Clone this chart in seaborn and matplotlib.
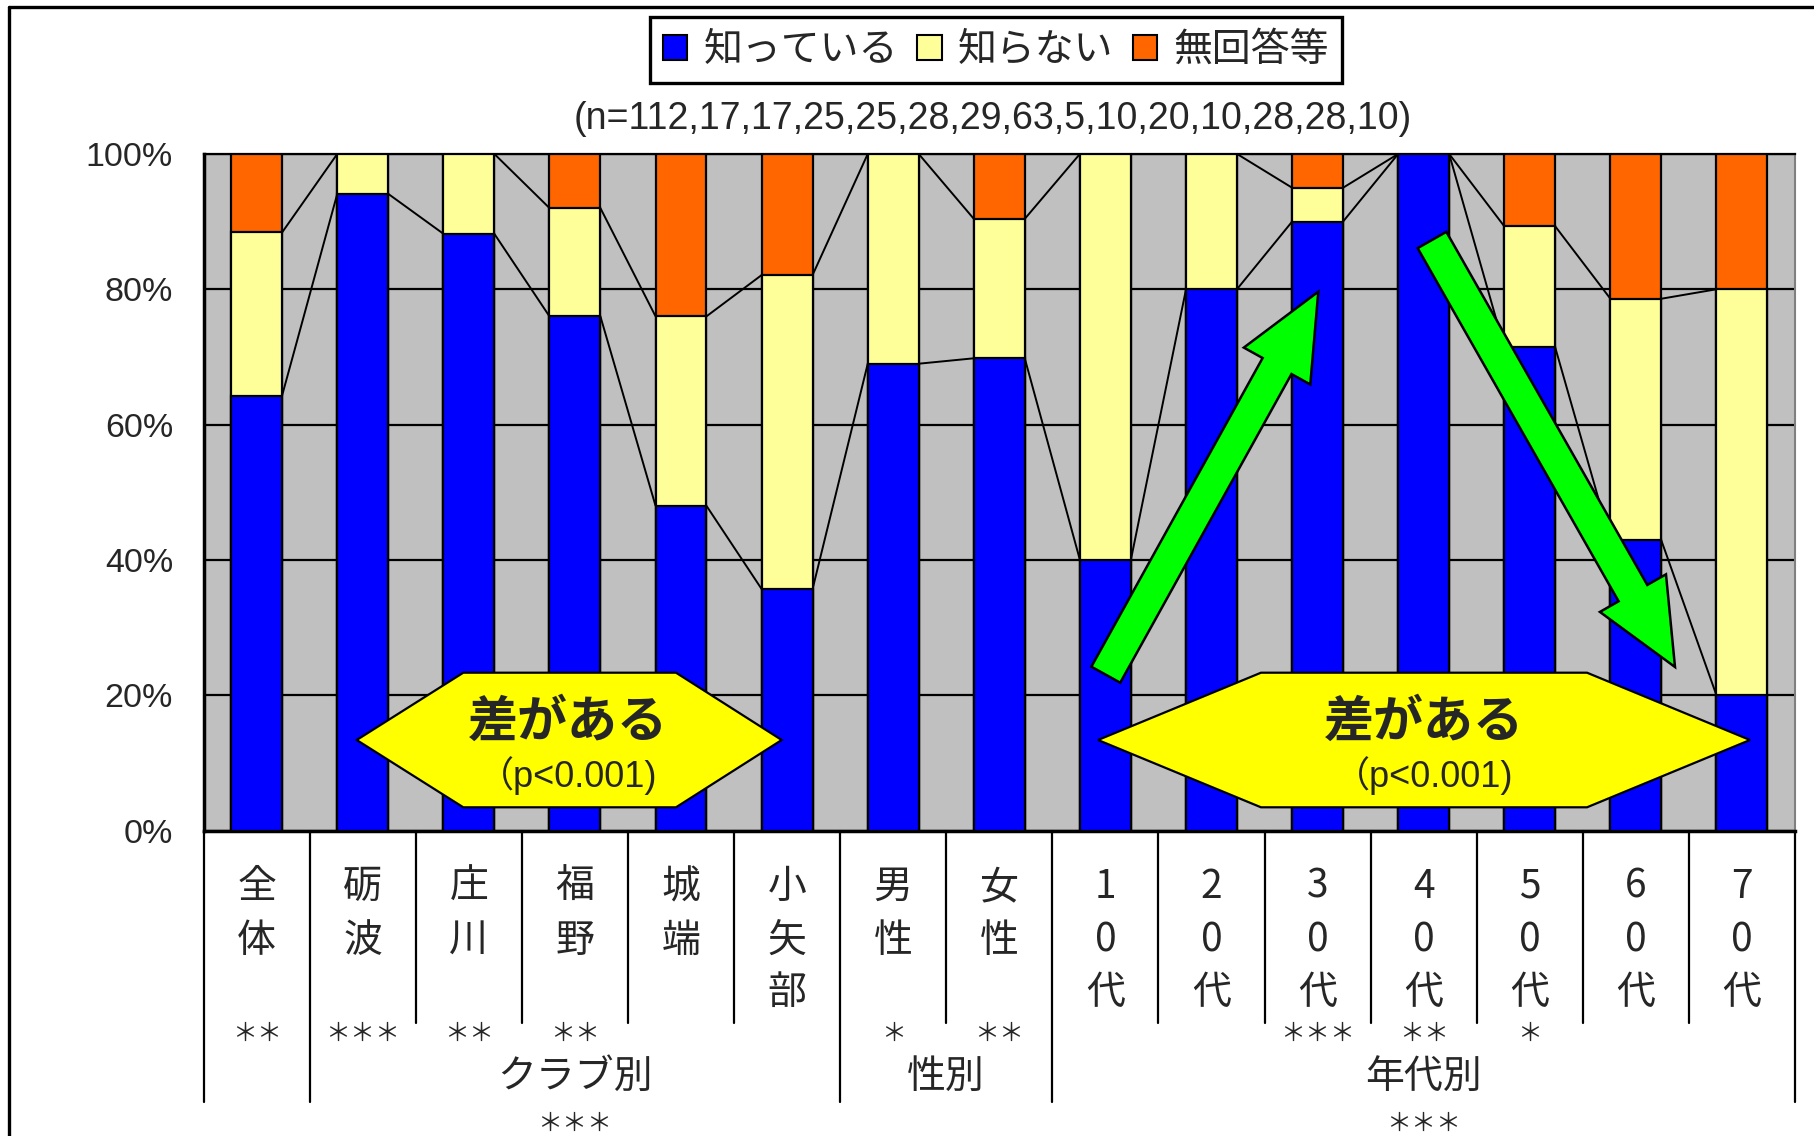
import numpy as np
import pandas as pd
import matplotlib
matplotlib.use("Agg")
import matplotlib.pyplot as plt
import seaborn as sns
from matplotlib.patches import Polygon, Patch
from matplotlib.lines import Line2D
from matplotlib import transforms, font_manager
from matplotlib.font_manager import FontProperties

# ---------------- data ----------------
categories = ["全体", "砺波", "庄川", "福野", "城端", "小矢部", "男性", "女性",
              "10代", "20代", "30代", "40代", "50代", "60代", "70代"]
know = [64.3, 94.1, 88.2, 76.0, 48.0, 35.7, 69.0, 69.8, 40.0, 80.0, 90.0, 100.0, 71.4, 42.9, 20.0]
not_know = [24.1, 5.9, 11.8, 16.0, 28.0, 46.4, 31.0, 20.6, 60.0, 20.0, 5.0, 0.0, 17.9, 35.7, 60.0]
no_answer = [11.6, 0.0, 0.0, 8.0, 24.0, 17.9, 0.0, 9.6, 0.0, 0.0, 5.0, 0.0, 10.7, 21.4, 20.0]
series_names = ["知っている", "知らない", "無回答等"]
significance = ["＊＊", "＊＊＊", "＊＊", "＊＊", "", "", "＊", "＊＊",
                "", "", "＊＊＊", "＊＊", "＊", "", ""]
groups = ["クラブ別", "性別", "年代別"]
group_first = [1, 6, 8]
group_last = [5, 7, 14]
group_significance = ["＊＊＊", "", "＊＊＊"]
yticks = [0, 20, 40, 60, 80, 100]
ytick_labels = ["0%", "20%", "40%", "60%", "80%", "100%"]
sample_text = "(n=112,17,17,25,25,28,29,63,5,10,20,10,28,28,10)"
badge_title = "差がある"
badge_sub = "（p<0.001)"

# ---------------- style ----------------
BLUE, YELLOW, ORANGE = "#0000FF", "#FFFF99", "#FF6600"
GREY = "#C0C0C0"
sns.set_style("white")
plt.rcParams["font.family"] = ["Noto Sans CJK JP", "DejaVu Sans"]

W, H = 1814, 1136
fig = plt.figure(figsize=(W / 100, H / 100), dpi=100)
fig.patch.set_facecolor("white")

L, R, T, B = 203.6, 1795.0, 153.9, 830.7
ax = fig.add_axes([L / W, 1 - B / H, (R - L) / W, (B - T) / H])
ax.set_facecolor(GREY)

df = pd.DataFrame({"category": categories, "know": know,
                   "not_know": not_know, "no_answer": no_answer})
df["c1"] = df["know"]
df["c2"] = df["know"] + df["not_know"]
df["c3"] = df["c2"] + df["no_answer"]

BW = 0.48
for col, colr in [("c3", ORANGE), ("c2", YELLOW), ("c1", BLUE)]:
    sns.barplot(data=df, x="category", y=col, order=categories, color=colr,
                saturation=1, width=BW, edgecolor="black", linewidth=1.6,
                errorbar=None, ax=ax, zorder=3)

# series lines between bars
xs = np.arange(len(categories))
for col in ["c1", "c2", "c3"]:
    v = df[col].values
    for i in range(len(v) - 1):
        ax.plot([xs[i] + BW / 2, xs[i + 1] - BW / 2], [v[i], v[i + 1]],
                color="black", lw=1.4, zorder=2, solid_capstyle="butt")

ax.set_xlim(-0.5, len(categories) - 0.5)
ax.set_ylim(0, 100)
ax.set_xlabel("")
ax.set_ylabel("")
ax.set_axisbelow(True)
ax.yaxis.grid(True, color="black", lw=1.6)
ax.xaxis.grid(False)
ax.set_xticks(np.arange(-0.5, len(categories), 1.0))
ax.set_xticklabels([])
ax.tick_params(axis="x", direction="in", length=8, width=1.5, color="black")

names = {f.name for f in font_manager.fontManager.ttflist}
if "Liberation Sans Narrow" in names:
    tick_fp = FontProperties(family="Liberation Sans Narrow", size=28)
else:
    tick_fp = FontProperties(family="Liberation Sans", size=24.5)
ax.set_yticks(yticks)
ax.set_yticklabels(ytick_labels, fontproperties=tick_fp)
ax.tick_params(axis="y", direction="out", length=5, width=1.5, color="black", pad=17)

for s in ["left", "bottom"]:
    ax.spines[s].set_color("black")
    ax.spines[s].set_linewidth(2.5)
ax.spines["top"].set_color("black")
ax.spines["top"].set_linewidth(1.6)
ax.spines["right"].set_color("#808080")
ax.spines["right"].set_linewidth(1.5)

# ---------------- category axis area ----------------
bt = transforms.blended_transform_factory(ax.transData, fig.transFigure)
def fy(ypx):
    return 1 - ypx / H

cat_fp = FontProperties(family=["Noto Sans CJK JP"], size=28)
star_fp = FontProperties(family=["Noto Sans CJK JP"], size=18)
row_y = [887, 941, 993]
for i, lab in enumerate(categories):
    for k, ch in enumerate(lab):
        ax.text(i, fy(row_y[k]), ch, transform=bt, ha="center", va="center",
                fontproperties=cat_fp, clip_on=False)
    if significance[i]:
        ax.text(i, fy(1034), significance[i], transform=bt, ha="center", va="center",
                fontproperties=star_fp, clip_on=False)

tall = [-0.5, 0.5, 5.5, 7.5, 14.5]
for xb in np.arange(-0.5, len(categories), 1.0):
    yend = 1102 if any(abs(xb - t) < 1e-6 for t in tall) else 1023
    ax.add_line(Line2D([xb, xb], [fy(B), fy(yend)], transform=bt, color="black",
                       lw=1.6, clip_on=False))

for g, a, b_, sig in zip(groups, group_first, group_last, group_significance):
    xc = (a + b_) / 2
    ax.text(xc, fy(1077), g, transform=bt, ha="center", va="center",
            fontproperties=cat_fp, clip_on=False)
    if sig:
        ax.text(xc, fy(1124), sig, transform=bt, ha="center", va="center",
                fontproperties=star_fp, clip_on=False)

# ---------------- legend & subtitle ----------------
handles = [Patch(facecolor=c, edgecolor="black", lw=1.5, label=n)
           for c, n in zip([BLUE, YELLOW, ORANGE], series_names)]
leg = fig.legend(handles=handles, loc="center", bbox_to_anchor=(996 / W, fy(50)),
                 ncol=3, prop=FontProperties(family=["Noto Sans CJK JP"], size=28),
                 handlelength=0.62, handleheight=0.62, handletextpad=0.42,
                 columnspacing=0.5, borderpad=0.34, fancybox=False,
                 edgecolor="black", framealpha=1)
leg.get_frame().set_linewidth(2.4)

fig.text(993 / W, fy(119), sample_text, ha="center", va="center",
         family=["Liberation Sans", "DejaVu Sans"], fontsize=27)

# ---------------- outer frame ----------------
fig.add_artist(Line2D([9 / W, 1.0], [fy(7), fy(7)], transform=fig.transFigure,
                      color="black", lw=2.4))
fig.add_artist(Line2D([9 / W, 9 / W], [0, fy(7)], transform=fig.transFigure,
                      color="black", lw=2.4))

# ---------------- arrows ----------------
def arrow_poly(tail, tip, ws=33, wh=76, hl=85):
    t = np.array(tail, float); p = np.array(tip, float)
    u = (p - t) / np.linalg.norm(p - t)
    n = np.array([-u[1], u[0]])
    bpt = p - hl * u
    pts = [t + n * ws / 2, bpt + n * ws / 2, bpt + n * wh / 2, p,
           bpt - n * wh / 2, bpt - n * ws / 2, t - n * ws / 2]
    return [(q[0] / W, fy(q[1])) for q in pts]

for tail, tip in [((1105.8, 674.7), (1318.3, 291.7)), ((1432, 240), (1675, 667))]:
    fig.add_artist(Polygon(arrow_poly(tail, tip), closed=True, facecolor="#00FF00",
                           edgecolor="black", lw=1.8, transform=fig.transFigure,
                           zorder=9))

# ---------------- hexagon badges ----------------
def hexagon(x0, x1, x2, x3, ytop, ymid, ybot):
    pts = [(x0, ymid), (x1, ytop), (x2, ytop), (x3, ymid), (x2, ybot), (x1, ybot)]
    return [(q[0] / W, fy(q[1])) for q in pts]

for (x0, x1, x2, x3), xc in [((356.7, 463.3, 676, 781.7), 568),
                             ((1098, 1261, 1587, 1750), 1424)]:
    fig.add_artist(Polygon(hexagon(x0, x1, x2, x3, 672.7, 740, 807.3), closed=True,
                           facecolor="#FFFF00", edgecolor="black", lw=1.6,
                           transform=fig.transFigure, zorder=10))
    fig.text(xc / W, fy(722), badge_title, ha="center", va="center",
             family=["Noto Sans CJK JP"], fontsize=36, fontweight="bold", zorder=11)
    fig.text(xc / W, fy(776), badge_sub, ha="center", va="center",
             family=["Liberation Sans", "Noto Sans CJK JP"], fontsize=26, zorder=11)

fig.savefig("out.png", dpi=100, facecolor="white")
